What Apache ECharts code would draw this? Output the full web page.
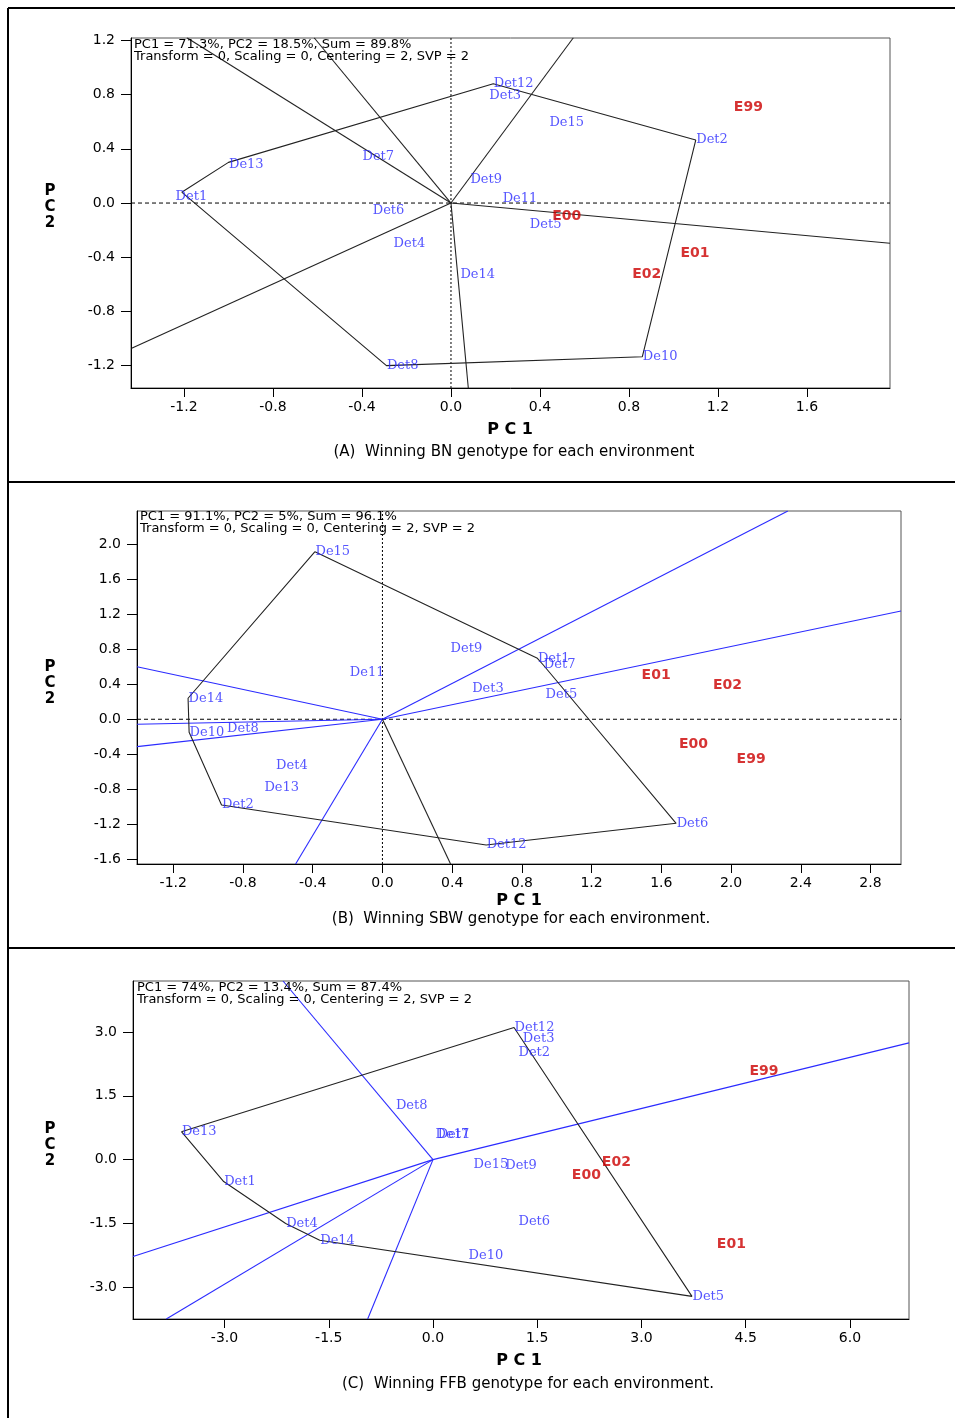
<!DOCTYPE html>
<html>
<head>
<meta charset="utf-8">
<script src="https://cdn.jsdelivr.net/npm/echarts@6/dist/echarts.min.js"></script>
<style>html,body{margin:0;padding:0;background:#fff}#c{width:955px;height:1418px}</style>
</head>
<body>
<div id="c"></div>
<script>
// ---------- Panel A (BN) ----------
const aGenoNames = ['Det1','De13','Det12','Det3','De15','Det2','De10','Det8','Det7','Det9','De11','Det6','Det4','De14','Det5'];
const aGenoX = [-1.24, -1.00, 0.19, 0.17, 0.44, 1.10, 0.86, -0.29, -0.40, 0.085, 0.23, -0.354, -0.26, 0.04, 0.352];
const aGenoY = [0.05, 0.28, 0.88, 0.79, 0.59, 0.465, -1.134, -1.20, 0.34, 0.17, 0.035, -0.054, -0.297, -0.531, -0.157];
const aEnvNames = ['E99','E00','E01','E02'];
const aEnvX = [1.269, 0.453, 1.029, 0.812];
const aEnvY = [0.703, -0.101, -0.371, -0.524];
const aPolygon = ['Det1','De13','Det12','Det2','De10','Det8'];
const aPolyX = [-1.21, -1.00, 0.19, 1.10, 0.86, -0.29];
const aPolyY = [0.08, 0.30, 0.88, 0.465, -1.134, -1.20];
const aRayX = [-1.187, -0.615, 0.55, 1.973, 0.078, -1.435];
const aRayY = [1.22, 1.22, 1.22, -0.297, -1.367, -1.072];
const aRayBlue = [false, false, false, false, false, false];
const aXTicks = [-1.2, -0.8, -0.4, 0.0, 0.4, 0.8, 1.2, 1.6];
const aYTicks = [-1.2, -0.8, -0.4, 0.0, 0.4, 0.8, 1.2];
const aRange = [-1.438, 1.973, -1.365, 1.218];

// ---------- Panel B (SBW) ----------
const bGenoNames = ['Det1','Det7','De15','De14','De10','Det2','Det12','Det6','Det9','De11','Det3','Det5','Det8','Det4','De13'];
const bGenoX = [0.889, 0.923, -0.387, -1.115, -1.109, -0.923, 0.595, 1.685, 0.388, -0.19, 0.512, 0.933, -0.894, -0.613, -0.68];
const bGenoY = [0.697, 0.62, 1.915, 0.24, -0.149, -0.979, -1.437, -1.189, 0.811, 0.533, 0.354, 0.279, -0.103, -0.534, -0.782];
const bEnvNames = ['E01','E02','E00','E99'];
const bEnvX = [1.484, 1.893, 1.698, 2.029];
const bEnvY = [0.506, 0.389, -0.286, -0.454];
const bPolygon = ['De15','De14','De10','Det2','Det12','Det6','Det7','Det1'];
const bPolyX = [-0.387, -1.115, -1.109, -0.923, 0.595, 1.685, 0.923, 0.889];
const bPolyY = [1.915, 0.24, -0.149, -0.979, -1.437, -1.189, 0.62, 0.697];
const bRayX = [2.326, 2.975, -1.408, -1.408, -1.408, -0.498, 0.391];
const bRayY = [2.38, 1.238, 0.601, -0.057, -0.313, -1.654, -1.654];
const bRayBlue = [true, true, true, true, true, true, false];
const bXTicks = [-1.2, -0.8, -0.4, 0.0, 0.4, 0.8, 1.2, 1.6, 2.0, 2.4, 2.8];
const bYTicks = [-1.6, -1.2, -0.8, -0.4, 0.0, 0.4, 0.8, 1.2, 1.6, 2.0];
const bRange = [-1.408, 2.975, -1.654, 2.38];

// ---------- Panel C (FFB) ----------
const cGenoNames = ['De13','Det1','Det4','De14','Det5','Det12','Det3','Det2','Det8','De11','Det7','De15','Det9','Det6','De10'];
const cGenoX = [-3.62, -3.012, -2.12, -1.63, 3.727, 1.166, 1.286, 1.223, -0.541, 0.03, 0.06, 0.576, 1.032, 1.223, 0.504];
const cGenoY = [0.657, -0.516, -1.50, -1.897, -3.216, 3.108, 2.85, 2.512, 1.268, 0.58, 0.58, -0.108, -0.148, -1.455, -2.26];
const cEnvNames = ['E99','E02','E00','E01'];
const cEnvX = [4.547, 2.423, 1.991, 4.078];
const cEnvY = [2.066, -0.07, -0.359, -2.0];
const cPolygon = ['De13','Det12','Det5','De14','Det4','Det1'];
const cPolyX = [-3.62, 1.166, 3.727, -1.63, -2.12, -3.012];
const cPolyY = [0.657, 3.108, -3.216, -1.897, -1.50, -0.516];
const cRayX = [-2.158, 6.85, -4.317, -3.838, -0.94];
const cRayY = [4.2, 2.746, -2.277, -3.747, -3.747];
const cRayBlue = [true, true, true, true, true];
const cXTicks = [-3.0, -1.5, 0.0, 1.5, 3.0, 4.5, 6.0];
const cYTicks = [-3.0, -1.5, 0.0, 1.5, 3.0];
const cRange = [-4.317, 6.85, -3.747, 4.2];

const panels = [
  {gN:aGenoNames,gX:aGenoX,gY:aGenoY,eN:aEnvNames,eX:aEnvX,eY:aEnvY,pX:aPolyX,pY:aPolyY,rX:aRayX,rY:aRayY,rB:aRayBlue,xt:aXTicks,yt:aYTicks,r:aRange,zero:true,
   grid:{left:131,top:38,width:759,height:350}},
  {gN:bGenoNames,gX:bGenoX,gY:bGenoY,eN:bEnvNames,eX:bEnvX,eY:bEnvY,pX:bPolyX,pY:bPolyY,rX:bRayX,rY:bRayY,rB:bRayBlue,xt:bXTicks,yt:bYTicks,r:bRange,zero:true,
   grid:{left:137,top:511,width:764,height:353}},
  {gN:cGenoNames,gX:cGenoX,gY:cGenoY,eN:cEnvNames,eX:cEnvX,eY:cEnvY,pX:cPolyX,pY:cPolyY,rX:cRayX,rY:cRayY,rB:cRayBlue,xt:cXTicks,yt:cYTicks,r:cRange,zero:false,
   grid:{left:133,top:981,width:776,height:338}}
];

const BLUE = '#2b2bff', RED = '#cc0000', LINE = '#222';
const tickFont = {color:'#000', fontFamily:'DejaVu Sans', fontSize:14};
const fmt = v => v.toFixed(1);

const grids = [], xAxes = [], yAxes = [], series = [];
panels.forEach((p, i) => {
  grids.push(Object.assign({show:true, borderColor:'#555', borderWidth:1, containLabel:false}, p.grid));
  xAxes.push({type:'value', gridIndex:i, min:p.r[0], max:p.r[1], splitLine:{show:false},
    axisLine:{onZero:false, lineStyle:{color:'#000', width:1}},
    axisTick:{show:true, inside:false, length:9, customValues:p.xt, lineStyle:{color:'#000'}},
    axisLabel:Object.assign({customValues:p.xt, formatter:fmt, margin:12}, tickFont)});
  yAxes.push({type:'value', gridIndex:i, min:p.r[2], max:p.r[3], splitLine:{show:false},
    axisLine:{onZero:false, lineStyle:{color:'#000', width:1}},
    axisTick:{show:true, inside:false, length:10, customValues:p.yt, lineStyle:{color:'#000'}},
    axisLabel:Object.assign({customValues:p.yt, formatter:fmt, margin:16}, tickFont)});

  if (p.zero) {
    series.push({type:'line', xAxisIndex:i, yAxisIndex:i, symbol:'none', silent:true, z:1,
      lineStyle:{color:'#000', width:1, type:[2,2]}, data:[[0, p.r[2]], [0, p.r[3]]]});
    series.push({type:'line', xAxisIndex:i, yAxisIndex:i, symbol:'none', silent:true, z:1,
      lineStyle:{color:'#000', width:1, type:[4,3]}, data:[[p.r[0], 0], [p.r[1], 0]]});
  }
  p.rX.forEach((x, k) => {
    series.push({type:'line', xAxisIndex:i, yAxisIndex:i, symbol:'none', silent:true, z:2, clip:true,
      lineStyle:{color:p.rB[k] ? BLUE : LINE, width:1.1}, data:[[0,0],[x, p.rY[k]]]});
  });
  const pts = p.pX.map((x, k) => [x, p.pY[k]]);
  pts.push(pts[0]);
  series.push({type:'line', xAxisIndex:i, yAxisIndex:i, symbol:'none', silent:true, z:2,
    lineStyle:{color:LINE, width:1.1}, data:pts});
  series.push({type:'scatter', xAxisIndex:i, yAxisIndex:i, symbolSize:1, z:5,
    itemStyle:{color:'rgba(0,0,0,0)'},
    label:{show:true, position:'right', distance:0, formatter:'{b}', color:BLUE,
      fontFamily:'DejaVu Serif', fontSize:13},
    data:p.gN.map((n, j) => ({name:n, value:[p.gX[j], p.gY[j]]}))});
  series.push({type:'scatter', xAxisIndex:i, yAxisIndex:i, symbolSize:1, z:6,
    itemStyle:{color:'rgba(0,0,0,0)'},
    label:{show:true, position:'right', distance:0, formatter:'{b}', color:RED,
      fontFamily:'DejaVu Sans', fontWeight:'bold', fontSize:14},
    data:p.eN.map((n, j) => ({name:n, value:[p.eX[j], p.eY[j]]}))});
});

const infoLines = [
  ['PC1 = 71.3%, PC2 = 18.5%, Sum = 89.8%', 'Transform = 0, Scaling = 0, Centering = 2, SVP = 2'],
  ['PC1 = 91.1%, PC2 = 5%, Sum = 96.1%', 'Transform = 0, Scaling = 0, Centering = 2, SVP = 2'],
  ['PC1 = 74%, PC2 = 13.4%, Sum = 87.4%', 'Transform = 0, Scaling = 0, Centering = 2, SVP = 2']
];
const captions = [
  '(A)  Winning BN genotype for each environment',
  '(B)  Winning SBW genotype for each environment.',
  '(C)  Winning FFB genotype for each environment.'
];
const infoPos = [[134, 38], [140, 510], [137, 981]];
const pc1Pos = [[510, 430], [519, 901], [519, 1361]];
const pc2Pos = [[50, 207], [50, 683], [50, 1145]];
const capPos = [[514, 452], [521, 919], [528, 1384]];

const graphic = [];
for (let i = 0; i < 3; i++) {
  graphic.push({type:'text', left:infoPos[i][0], top:infoPos[i][1], z:10,
    style:{text:infoLines[i].join('\n'), fill:'#000', font:'13px "DejaVu Sans"', lineHeight:12.5}});
  graphic.push({type:'text', x:pc1Pos[i][0], y:pc1Pos[i][1], z:10,
    style:{text:'P C 1', fill:'#000', font:'bold 16px "DejaVu Sans"', align:'center', verticalAlign:'middle'}});
  graphic.push({type:'text', x:pc2Pos[i][0], y:pc2Pos[i][1], z:10,
    style:{text:'P\nC\n2', fill:'#000', font:'bold 15px "DejaVu Sans"', align:'center', verticalAlign:'middle', lineHeight:16}});
  graphic.push({type:'text', x:capPos[i][0], y:capPos[i][1], z:10,
    style:{text:captions[i], fill:'#000', font:'15px "DejaVu Sans"', align:'center', verticalAlign:'middle'}});
}
const frame = {stroke:'#000', lineWidth:2};
graphic.push({type:'line', shape:{x1:8, y1:8, x2:955, y2:8}, style:frame});
graphic.push({type:'line', shape:{x1:8, y1:8, x2:8, y2:1418}, style:frame});
graphic.push({type:'line', shape:{x1:8, y1:482, x2:955, y2:482}, style:frame});
graphic.push({type:'line', shape:{x1:8, y1:948, x2:955, y2:948}, style:frame});

const chart = echarts.init(document.getElementById('c'), null, {renderer:'canvas'});
chart.setOption({
  animation:false,
  backgroundColor:'#fff',
  grid:grids, xAxis:xAxes, yAxis:yAxes, series:series, graphic:graphic
});
</script>
</body>
</html>
